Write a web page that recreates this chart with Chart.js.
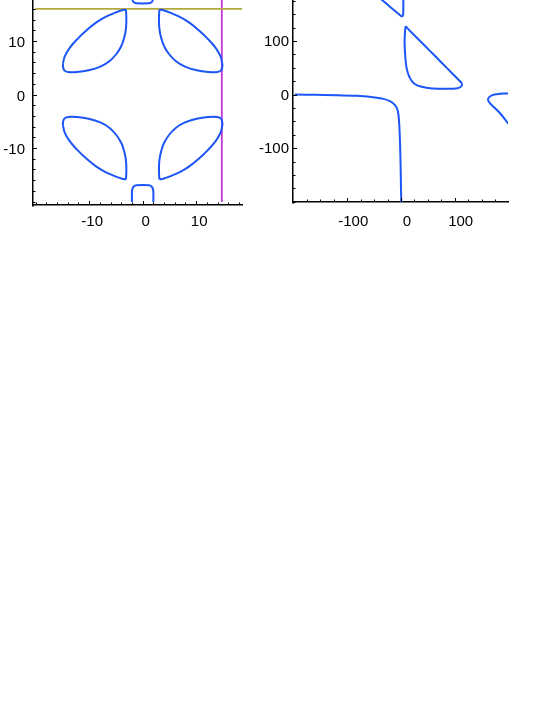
<!DOCTYPE html>
<html><head><meta charset="utf-8">
<script src="https://cdn.jsdelivr.net/npm/chart.js@4.4.1/dist/chart.umd.min.js"></script>
<style>
html,body{margin:0;padding:0;background:#fff;width:545px;height:705px;overflow:hidden;}
canvas{position:absolute;top:0;}
#c1{left:0;} #c2{left:250px;}
</style></head><body>
<canvas id="c1" width="250" height="240"></canvas>
<canvas id="c2" width="295" height="240"></canvas>
<script>
// ---------- LEFT PANEL DATA (x, y) ----------
const leafUR_lower = [[3.12,15.86],[3.05,14.24],[3.12,12.37],[3.43,10.69],[3.99,9.07],[4.92,7.57],[6.23,6.20],[7.91,5.20],[10.09,4.52],[12.27,4.21],[13.96,4.21],[14.64,4.52],[14.89,5.20],[14.89,5.83]];
const leafUR_upper = [[14.89,5.83],[14.58,7.07],[13.71,8.63],[12.27,10.31],[10.59,11.93],[8.72,13.43],[6.85,14.55],[5.11,15.30],[3.86,15.73],[3.12,15.86]];
const leafUL_lower = [[-3.12,15.86],[-3.05,14.24],[-3.12,12.37],[-3.43,10.69],[-3.99,9.07],[-4.92,7.57],[-6.23,6.20],[-7.91,5.20],[-10.09,4.52],[-12.27,4.21],[-13.96,4.21],[-14.64,4.52],[-14.89,5.20],[-14.89,5.83]];
const leafUL_upper = [[-14.89,5.83],[-14.58,7.07],[-13.71,8.63],[-12.27,10.31],[-10.59,11.93],[-8.72,13.43],[-6.85,14.55],[-5.11,15.30],[-3.86,15.73],[-3.12,15.86]];
const leafLR_upper = [[3.12,-15.86],[3.05,-14.24],[3.12,-12.37],[3.43,-10.69],[3.99,-9.07],[4.92,-7.57],[6.23,-6.20],[7.91,-5.20],[10.09,-4.52],[12.27,-4.21],[13.96,-4.21],[14.64,-4.52],[14.89,-5.20],[14.89,-5.83]];
const leafLR_lower = [[14.89,-5.83],[14.58,-7.07],[13.71,-8.63],[12.27,-10.31],[10.59,-11.93],[8.72,-13.43],[6.85,-14.55],[5.11,-15.30],[3.86,-15.73],[3.12,-15.86]];
const leafLL_upper = [[-3.12,-15.86],[-3.05,-14.24],[-3.12,-12.37],[-3.43,-10.69],[-3.99,-9.07],[-4.92,-7.57],[-6.23,-6.20],[-7.91,-5.20],[-10.09,-4.52],[-12.27,-4.21],[-13.96,-4.21],[-14.64,-4.52],[-14.89,-5.20],[-14.89,-5.83]];
const leafLL_lower = [[-14.89,-5.83],[-14.58,-7.07],[-13.71,-8.63],[-12.27,-10.31],[-10.59,-11.93],[-8.72,-13.43],[-6.85,-14.55],[-5.11,-15.30],[-3.86,-15.73],[-3.12,-15.86]];
const bumpTop = [[-1.9,18.6],[-1.9,17.8],[-1.8,17.4],[-1.55,17.15],[-1.15,17.04],[1.15,17.04],[1.55,17.15],[1.8,17.4],[1.9,17.8],[1.9,18.6]];
const bumpBottom = [[-2.0,-20.1],[-2.0,-18.2],[-1.9,-17.6],[-1.65,-17.2],[-1.2,-16.98],[1.2,-16.98],[1.65,-17.2],[1.9,-17.6],[2.0,-18.2],[2.0,-20.1]];
const oliveLine = [[-20.1,16],[18.7,16]];
const purpleLine = [[14.8,-20.1],[14.8,17.8]];

const leftXLabels = [-10,0,10];
const leftYLabels = [-10,0,10];
const leftXMinor = [-20,-18,-16,-14,-12,-10,-8,-6,-4,-2,0,2,4,6,8,10,12,14,16,18];
const leftYMinor = [-20,-18,-16,-14,-12,-10,-8,-6,-4,-2,0,2,4,6,8,10,12,14,16];

// ---------- RIGHT PANEL DATA ----------
const hypBranch = [[-197.9,0.3],[-157.5,-0.3],[-120.1,-0.9],[-82.8,-2.2],[-57.9,-4.0],[-36.1,-7.2],[-20.5,-12.1],[-11.2,-19.6],[-6.2,-28.9],[-3.7,-47.6],[-1.9,-85.0],[-0.6,-134.8],[0,-172.1],[0.6,-200.1]];
const triLower = [[8.7,127.9],[7.5,117.3],[6.8,95.5],[8.1,70.7],[10.6,48.9],[15.6,33.3],[24.3,20.9],[38.6,14.6],[60.4,11.5],[85.3,10.9],[105.2,12.1],[112.7,15.9],[113.9,20.8]];
const triDiag = [[113.9,20.8],[104.0,31.0],[85.3,50.0],[63.5,72.0],[41.7,94.0],[23.0,112.5],[11.8,124.0],[8.7,127.9]];
const topDiag = [[-42.3,182.7],[-33.0,174.6],[-20.5,164.1],[-8.1,153.5],[-0.6,147.2],[1.9,145.3]];
const topVert = [[1.9,145.3],[3.7,147.8],[4.4,157.8],[4.4,170.2],[4.4,182.7]];
const rightPiece = [[203.5,2.2],[191.1,2.2],[178.6,0.9],[167.4,-2.2],[162.5,-7.2],[163.7,-13.4],[172.4,-22.7],[184.9,-35.2],[197.3,-50.7],[203.5,-58.8]];

const rightXLabels = [-100,0,100];
const rightYLabels = [-100,0,100];
const rightXMinor = [-175,-150,-125,-100,-75,-50,-25,0,25,50,75,100,125,150,175];
const rightYMinor = [-200,-175,-150,-125,-100,-75,-50,-25,0,25,50,75,100,125,150,175];

const BLUE = '#1c56f7', OLIVE = '#b3a83c', PURPLE = '#bf38d8';

Chart.defaults.font.family = '"Liberation Sans", Arial, sans-serif';
Chart.defaults.font.size = 15;
Chart.defaults.color = '#000';

function ds(arr, color, width, tension) {
  return { data: arr.map(p => ({x: p[0], y: p[1]})), showLine: true, borderColor: color,
           borderWidth: width, pointRadius: 0, tension: tension, fill: false };
}

const tickMarks = {
  id: 'tickMarks',
  afterDraw(chart, args, o) {
    const ctx = chart.ctx, ca = chart.chartArea;
    const xs = chart.scales.x, ys = chart.scales.y;
    ctx.save();
    ctx.strokeStyle = '#000'; ctx.lineWidth = 1;
    ctx.beginPath();
    o.xMinor.forEach(v => {
      const p = Math.round(xs.getPixelForValue(v)) + 0.5;
      const len = o.xMajor.includes(v) ? 4 : 2.5;
      ctx.moveTo(p, ca.bottom); ctx.lineTo(p, ca.bottom - len);
    });
    o.yMinor.forEach(v => {
      const p = Math.round(ys.getPixelForValue(v)) + 0.5;
      const len = o.yMajor.includes(v) ? 4 : 2.5;
      ctx.moveTo(ca.left, p); ctx.lineTo(ca.left + len, p);
    });
    // small corner stub below the frame, as in the original
    ctx.moveTo(ca.left, ca.bottom); ctx.lineTo(ca.left, ca.bottom + 2);
    ctx.stroke();
    ctx.restore();
  }
};

function zeroPad(s) { s.paddingTop = 0; s.paddingBottom = 0; s.paddingLeft = 0; s.paddingRight = 0; }

function makeScales(c) {
  return {
    x: {
      type: 'linear', min: c.xmin, max: c.xmax,
      grid: { display: true, drawOnChartArea: false, drawTicks: false },
      border: { display: true, color: '#000', width: 1.5 },
      ticks: { padding: c.xPad, labelOffset: c.xOff, maxRotation: 0, autoSkip: false },
      afterBuildTicks: s => { s.ticks = c.xLabels.map(v => ({value: v})); },
      afterFit: s => { s.height = c.xH; zeroPad(s); }
    },
    y: {
      type: 'linear', min: c.ymin, max: c.ymax,
      grid: { display: true, drawOnChartArea: false, drawTicks: false },
      border: { display: true, color: '#000', width: 1.5 },
      ticks: { padding: c.yPad, labelOffset: c.yOff, autoSkip: false },
      afterBuildTicks: s => { s.ticks = c.yLabels.map(v => ({value: v})); },
      afterFit: s => { s.width = c.yW; zeroPad(s); }
    }
  };
}

const common = {
  responsive: false, animation: false, devicePixelRatio: 1, events: [],
  elements: { line: { capBezierPoints: false } },
};

new Chart(document.getElementById('c1'), {
  type: 'scatter',
  data: { datasets: [
    ds(leafUR_lower, BLUE, 2, 0.4), ds(leafUR_upper, BLUE, 2, 0.4),
    ds(leafUL_lower, BLUE, 2, 0.4), ds(leafUL_upper, BLUE, 2, 0.4),
    ds(leafLR_upper, BLUE, 2, 0.4), ds(leafLR_lower, BLUE, 2, 0.4),
    ds(leafLL_upper, BLUE, 2, 0.4), ds(leafLL_lower, BLUE, 2, 0.4),
    ds(bumpTop, BLUE, 2, 0.3), ds(bumpBottom, BLUE, 2, 0.3),
    ds(oliveLine, OLIVE, 1.6, 0), ds(purpleLine, PURPLE, 1.8, 0)
  ]},
  options: Object.assign({}, common, {
    layout: { padding: { left: 0, top: 0, right: 8, bottom: 0 } },
    plugins: { legend: { display: false }, tooltip: { enabled: false },
      tickMarks: { xMinor: leftXMinor, xMajor: leftXLabels, yMinor: leftYMinor, yMajor: leftYLabels } },
    scales: makeScales({ xmin: -20.5, xmax: 18.57, ymin: -20.65, ymax: 17.66,
      xLabels: leftXLabels, yLabels: leftYLabels, xH: 35, yW: 33, xPad: 8, yPad: 8, xOff: 3, yOff: 2 })
  }),
  plugins: [tickMarks]
});

new Chart(document.getElementById('c2'), {
  type: 'scatter',
  data: { datasets: [
    ds(hypBranch, BLUE, 2, 0.4),
    ds(triLower, BLUE, 2, 0.4), ds(triDiag, BLUE, 2, 0.1),
    ds(topDiag, BLUE, 2, 0.3), ds(topVert, BLUE, 2, 0.3),
    ds(rightPiece, BLUE, 2, 0.4)
  ]},
  options: Object.assign({}, common, {
    layout: { padding: { left: 0, top: 0, right: 37, bottom: 0 } },
    plugins: { legend: { display: false }, tooltip: { enabled: false },
      tickMarks: { xMinor: rightXMinor, xMajor: rightXLabels, yMinor: rightYMinor, yMajor: rightYLabels } },
    scales: makeScales({ xmin: -201, xmax: 199.3, ymin: -200.2, ymax: 176.5,
      xLabels: rightXLabels, yLabels: rightYLabels, xH: 38, yW: 43, xPad: 11, yPad: 4, xOff: 6, yOff: 1 })
  }),
  plugins: [tickMarks]
});
</script>
</body></html>
